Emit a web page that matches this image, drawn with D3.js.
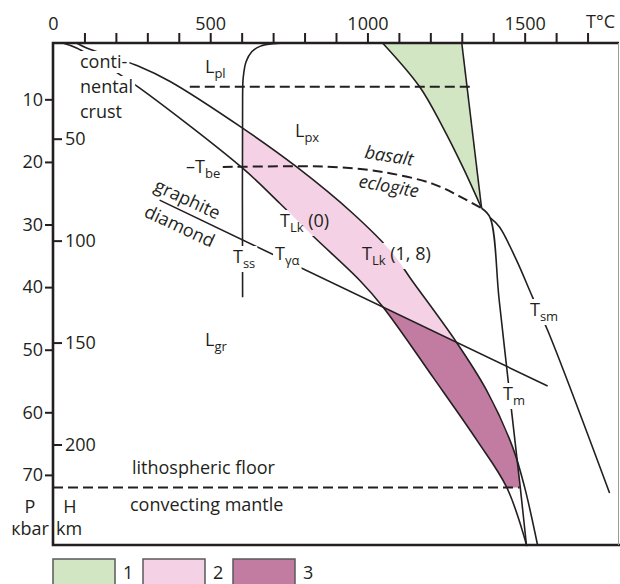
<!DOCTYPE html>
<meta charset="utf-8">
<style>
  body { margin: 0; background: #fff; }
  svg { display: block; }
  text { font-family: "Open Sans", sans-serif; font-size: 18px; fill: #231f20; white-space: pre; }
  .sub { font-size: 13px; }
  .curve { fill: none; stroke: #231f20; stroke-width: 1.6px; }
  .dash { fill: none; stroke: #231f20; stroke-width: 2px; stroke-dasharray: 10,5; }
  .axis line { stroke: #231f20; stroke-width: 2px; }
  .axis path { display: none; }
  .axis text { font-family: "Open Sans", sans-serif; font-size: 18px; fill: #231f20; }
  .frame { stroke: #231f20; stroke-width: 2.6px; fill: none; }
</style>
<body>
<svg width="620" height="584"></svg>
<script src="https://d3js.org/d3.v7.min.js"></script>
<script>

// ---- data: [T °C, P kbar] ----
var tempTicks = d3.range(0, 1800, 100);
var tempLabels = [0, 500, 1000, 1500];
var pressureTicks = [10, 20, 30, 40, 50, 60, 70];
var depthTicks = [50, 100, 150, 200];
var kmPerKbar = 3.07;

var geothermLk0 = [[31, 1.0], [75, 1.8], [190, 5.3], [276, 8.2], [603, 21.0], [721, 26.6], [826, 31.8],
                   [975, 38.9], [1050, 43.2], [1210, 54.5], [1350, 64.6], [1443, 72.0], [1506, 81.2]];
var geothermLk18 = [[75, 1.0], [107, 1.8], [276, 4.8], [371, 7.1], [603, 14.6], [775, 20.8], [953, 28.2],
                    [1080, 34.6], [1141, 38.9], [1283, 48.8], [1379, 56.5], [1462, 65.6], [1500, 72.0], [1541, 81.2]];
var graphiteDiamond = [[339, 26.1], [1573, 55.8]];
var solidusTss = [[603, 41.6], [603, 9.5], [605, 6.5], [614, 4.0], [632, 2.4], [660, 1.5], [700, 1.1], [760, 1.0]];
var plagioclaseLine = [[435, 8.0], [1341, 8.0]];
var basaltEclogite = [[540, 20.8], [784, 20.7], [890, 20.8], [1048, 21.6], [1208, 23.5], [1293, 25.5], [1363, 27.4]];
var lithoFloor = [[0, 72.0], [1484, 72.0]];
var basaltLeft = [[1048, 1.0], [1166, 8.0], [1239, 14.4], [1303, 20.8], [1363, 27.4]];
var basaltRight = [[1300, 1.0], [1363, 27.4]];
var mantleTm = [[1363, 27.4], [1390, 28.9], [1419, 42.1], [1459, 60.1], [1486, 72.0], [1506, 81.4]];
var mantleTsm = [[1390, 28.9], [1420, 30.4], [1474, 35.7], [1525, 41.6], [1573, 46.9], [1770, 72.9]];

var legendKeys = ["1", "2", "3"];
var legendColors = ["#d2e6c3", "#f5d1e5", "#c27ba1"];

// ---- scales ----
var svg = d3.select("svg");
var x = d3.scaleLinear().domain([0, 1800]).range([53, 619]);
var y = d3.scaleLinear().domain([1, 81.2]).range([43, 545]);
var yKm = d3.scaleLinear().domain(y.domain().map(function(p) { return p * kmPerKbar; })).range(y.range());
var gd = d3.scaleLinear().domain([graphiteDiamond[0][0], graphiteDiamond[1][0]])
    .range([graphiteDiamond[0][1], graphiteDiamond[1][1]]);

var line = d3.line()
    .x(function(d) { return x(d[0]); })
    .y(function(d) { return y(d[1]); })
    .curve(d3.curveCatmullRom.alpha(0.5));
var poly = d3.line()
    .x(function(d) { return x(d[0]); })
    .y(function(d) { return y(d[1]); });

function band(a, b) {
  return line(a) + "L" + line(b.slice().reverse()).slice(1) + "Z";
}

var defs = svg.append("defs");
var tss = solidusTss[0][0];
var floorP = lithoFloor[0][1];
var xMax = x.domain()[1], pTop = y.domain()[0], pBot = y.domain()[1];

defs.append("clipPath").attr("id", "clipPink").append("path")
    .attr("d", poly([[tss, pTop], [xMax, pTop], [xMax, gd(xMax)], [tss, gd(tss)]]) + "Z");
defs.append("clipPath").attr("id", "clipDiamond").append("path")
    .attr("d", poly([[0, gd(0)], [xMax, gd(xMax)], [xMax, floorP], [0, floorP]]) + "Z");
defs.append("clipPath").attr("id", "clipTm").append("path")
    .attr("d", poly([[0, pTop], [mantleTm[0][0], pTop]]) + "L" + line(mantleTm).slice(1) +
          "L" + poly([[0, pBot]]).slice(1) + "Z");

var mask = defs.append("mask").attr("id", "gaps")
    .attr("maskUnits", "userSpaceOnUse")
    .attr("x", 0).attr("y", 0).attr("width", 620).attr("height", 584);
mask.append("rect").attr("width", 620).attr("height", 584).attr("fill", "#fff");

// ---- fills ----
svg.append("path").attr("d", band(basaltLeft, basaltRight)).attr("fill", legendColors[0]);
svg.append("path").attr("d", band(geothermLk18, geothermLk0))
    .attr("fill", legendColors[1]).attr("clip-path", "url(#clipPink)");
svg.append("g").attr("clip-path", "url(#clipDiamond)")
  .append("path").attr("d", band(geothermLk18, geothermLk0))
    .attr("fill", legendColors[2]).attr("clip-path", "url(#clipTm)");

// ---- lines ----
var lines = svg.append("g").attr("mask", "url(#gaps)");
[geothermLk0, geothermLk18, graphiteDiamond, solidusTss, basaltLeft, basaltRight, mantleTm, mantleTsm]
  .forEach(function(d) { lines.append("path").attr("class", "curve").attr("d", line(d)); });
[plagioclaseLine, basaltEclogite, lithoFloor]
  .forEach(function(d) { lines.append("path").attr("class", "dash").attr("d", line(d)); });

// ---- frame & axes ----
svg.append("path").attr("class", "frame")
    .attr("d", "M" + x(xMax) + "," + y(pTop) + "H" + x(0) + "V" + y(pBot) + "H620");
svg.append("line").attr("x1", x(xMax) - 0.5).attr("x2", x(xMax) - 0.5)
    .attr("y1", y(pTop)).attr("y2", y(pBot)).attr("stroke", "#9a9a9a").attr("stroke-width", 1);

svg.append("g").attr("class", "axis")
    .attr("transform", "translate(0," + y(pTop) + ")")
    .call(d3.axisTop(x).tickValues(tempTicks).tickSize(10).tickPadding(3)
      .tickFormat(function(d) { return tempLabels.indexOf(d) >= 0 ? d : ""; }))
    .selectAll(".tick line").filter(function(d) { return d === 0; }).remove();

svg.append("g").attr("class", "axis")
    .attr("transform", "translate(" + x(0) + ",0)")
    .call(d3.axisLeft(y).tickValues(pressureTicks).tickSize(8).tickPadding(2));
svg.append("g").attr("class", "axis")
    .attr("transform", "translate(" + x(0) + ",0)")
    .call(d3.axisRight(yKm).tickValues(depthTicks).tickSize(9).tickPadding(3));

// ---- labels ----
var labels = svg.append("g");
function addLabel(px, py, parts, gap, attrs) {
  var t = labels.append("text").attr("x", px).attr("y", py);
  var shift = 0;
  parts.forEach(function(p) {
    var sub = p[1] === "sub";
    var dy = (sub ? 5 : 0) - shift;
    shift = sub ? 5 : 0;
    t.append("tspan").attr("dy", dy).attr("class", sub ? "sub" : null).text(p[0]);
  });
  if (attrs) for (var k in attrs) t.attr(k, attrs[k]);
  if (gap) {
    var b = t.node().getBBox();
    mask.append("rect").attr("x", b.x - 2).attr("y", b.y + 2)
        .attr("width", b.width + 4).attr("height", b.height - 2).attr("fill", "#000");
  }
  return t;
}

addLabel(80, 68, [["conti-"]], true);
addLabel(80, 93, [["nental"]], true);
addLabel(80, 118, [["crust"]], false);
addLabel(205, 73, [["L"], ["pl", "sub"]], false);
addLabel(295, 137, [["L"], ["px", "sub"]], false);
addLabel(186, 173, [["–T"], ["be", "sub"]], false);
addLabel(280, 227, [["T"], ["Lk", "sub"], [" (0)"]], true);
addLabel(275, 260, [["T"], ["γα", "sub"]], true);
addLabel(233, 263, [["T"], ["ss", "sub"]], true);
addLabel(362, 260, [["T"], ["Lk", "sub"], [" (1, 8)"]], true);
addLabel(530, 316, [["T"], ["sm", "sub"]], true);
addLabel(503, 400, [["T"], ["m", "sub"]], true);
addLabel(205, 346, [["L"], ["gr", "sub"]], false);
addLabel(0, 0, [["basalt"]], false, {transform: "translate(364,158) rotate(9)", "font-style": "italic"});
addLabel(0, 0, [["eclogite"]], false, {transform: "translate(358,187) rotate(10)", "font-style": "italic"});
addLabel(0, 0, [["graphite"]], false, {transform: "translate(153,190) rotate(25)"});
addLabel(0, 0, [["diamond"]], false, {transform: "translate(143,216) rotate(25)"});
addLabel(132, 474, [["lithospheric floor"]], false);
addLabel(130, 511, [["convecting mantle"]], false);
addLabel(30, 513, [["P"]], false, {"text-anchor": "middle"});
addLabel(30, 535, [["кbar"]], false, {"text-anchor": "middle"});
addLabel(70, 513, [["H"]], false, {"text-anchor": "middle"});
addLabel(69, 535, [["km"]], false, {"text-anchor": "middle"});
addLabel(615, 28, [["T°C"]], false, {"text-anchor": "end"});

// ---- legend ----
var legend = svg.append("g").selectAll("g").data(legendKeys).enter().append("g")
    .attr("transform", function(d, i) { return "translate(" + (53 + i * 90) + ",559)"; });
legend.append("rect").attr("width", 62).attr("height", 32)
    .attr("fill", function(d, i) { return legendColors[i]; })
    .attr("stroke", "#58595b").attr("stroke-width", 1.5);
legend.append("text").attr("x", 70).attr("y", 20).text(function(d) { return d; });

</script>
